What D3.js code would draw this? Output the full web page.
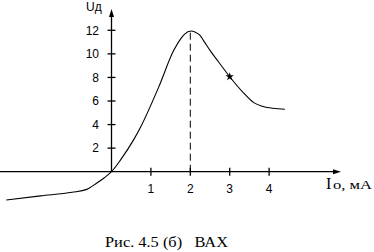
<!DOCTYPE html>
<html lang="ru">
<head>
<meta charset="UTF-8">
<title>ВАХ</title>
<script src="https://cdn.jsdelivr.net/npm/d3@7"></script>
<style>
    body{ margin:0; background:#fff; }
    svg text{ fill:#000; }
</style>
</head>
<body>
<svg id="chart" width="374" height="252"></svg>
<script>
    // curve: current (mA) vs voltage
    let curveI = [-2.67, -1.8, -1.0, -0.63, -0.38, -0.19, 0, 0.23, 0.56, 0.74, 1.2, 1.58, 1.76, 1.85, 2.02, 2.12, 2.24, 2.37, 2.5, 2.71, 3.0, 3.32, 3.61, 3.82, 4.1, 4.4]
    let curveU = [-2.4, -2.05, -1.75, -1.5, -0.98, -0.53, 0, 1.0, 2.7, 3.8, 7.2, 10.3, 11.3, 11.66, 11.94, 11.85, 11.6, 10.95, 10.3, 9.35, 8.06, 6.8, 5.86, 5.55, 5.38, 5.3]
    let xTicks = [1, 2, 3, 4]
    let yTicks = [2, 4, 6, 8, 10, 12]
    let peakI = 2, peakU = 11.94
    let markI = 3.0, markU = 8.06

    let svg = d3.select("#chart")

    let x = d3.scaleLinear().domain([0, 1]).range([111.5, 150.9])
    let y = d3.scaleLinear().domain([0, 12]).range([171.7, 30.3])

    let axes = svg.append("g").attr("stroke", "#000").attr("stroke-width", 1.3)

    // x axis
    axes.append("line")
        .attr("x1", 0).attr("x2", 336)
        .attr("y1", y(0)).attr("y2", y(0))
    svg.append("path")
        .attr("d", "M341," + y(0) + " L333," + (y(0) - 2.5) + " L333," + (y(0) + 2.5) + "Z")
        .attr("fill", "#000")

    // y axis
    axes.append("line")
        .attr("x1", x(0)).attr("x2", x(0))
        .attr("y1", y(0)).attr("y2", 15)
    svg.append("path")
        .attr("d", "M" + x(0) + ",9 L" + (x(0) - 2.5) + ",17 L" + (x(0) + 2.5) + ",17Z")
        .attr("fill", "#000")

    // ticks
    axes.selectAll(".xt").data(xTicks).enter().append("line")
        .attr("x1", d => x(d)).attr("x2", d => x(d))
        .attr("y1", y(0) - 4).attr("y2", y(0) + 4)
    axes.selectAll(".yt").data(yTicks).enter().append("line")
        .attr("x1", x(0) - 4).attr("x2", x(0) + 4)
        .attr("y1", d => y(d)).attr("y2", d => y(d))

    svg.selectAll(".xl").data(xTicks).enter().append("text")
        .attr("x", d => x(d)).attr("y", 192.5)
        .attr("text-anchor", "middle")
        .attr("font-family", "Liberation Sans, Arial")
        .attr("font-size", 12)
        .text(d => d)
    svg.selectAll(".yl").data(yTicks).enter().append("text")
        .attr("x", 99).attr("y", d => y(d) + 4.3)
        .attr("text-anchor", "end")
        .attr("font-family", "Liberation Sans, Arial")
        .attr("font-size", 12)
        .text(d => d)

    // axis titles
    svg.append("text")
        .attr("x", 86).attr("y", 10.5)
        .attr("font-family", "Liberation Sans, Arial")
        .attr("font-size", 12)
        .text("Uд")
    svg.append("text")
        .attr("x", 326).attr("y", 188.5)
        .attr("font-family", "Liberation Serif, Times New Roman")
        .attr("font-size", 16)
        .text("I")
    svg.append("text")
        .attr("x", 333).attr("y", 188.5)
        .attr("font-family", "Liberation Serif, Times New Roman")
        .attr("font-size", 12)
        .attr("textLength", 39)
        .attr("lengthAdjust", "spacingAndGlyphs")
        .text("о, мА")

    // dashed line at the peak
    svg.append("line")
        .attr("x1", x(peakI)).attr("x2", x(peakI))
        .attr("y1", y(0)).attr("y2", y(peakU))
        .attr("stroke", "#000").attr("stroke-width", 1)
        .attr("stroke-dasharray", "7,4")

    // curve
    let line = d3.line()
        .x(d => x(d[0]))
        .y(d => y(d[1]))
        .curve(d3.curveMonotoneX)
    svg.append("path")
        .datum(d3.zip(curveI, curveU))
        .attr("d", line)
        .attr("fill", "none")
        .attr("stroke", "#000")
        .attr("stroke-width", 1.1)

    svg.append("path")
        .attr("d", d3.symbol().type(d3.symbolStar).size(22)())
        .attr("transform", "translate(" + x(markI) + "," + y(markU) + ")")
        .attr("fill", "#000")

    // caption
    svg.append("text")
        .attr("x", 105).attr("y", 247)
        .attr("font-family", "Liberation Serif, Times New Roman")
        .attr("font-size", 14)
        .attr("textLength", 123)
        .attr("lengthAdjust", "spacingAndGlyphs")
        .style("white-space", "pre")
        .text("Рис. 4.5 (б)   ВАХ")
</script>
</body>
</html>
